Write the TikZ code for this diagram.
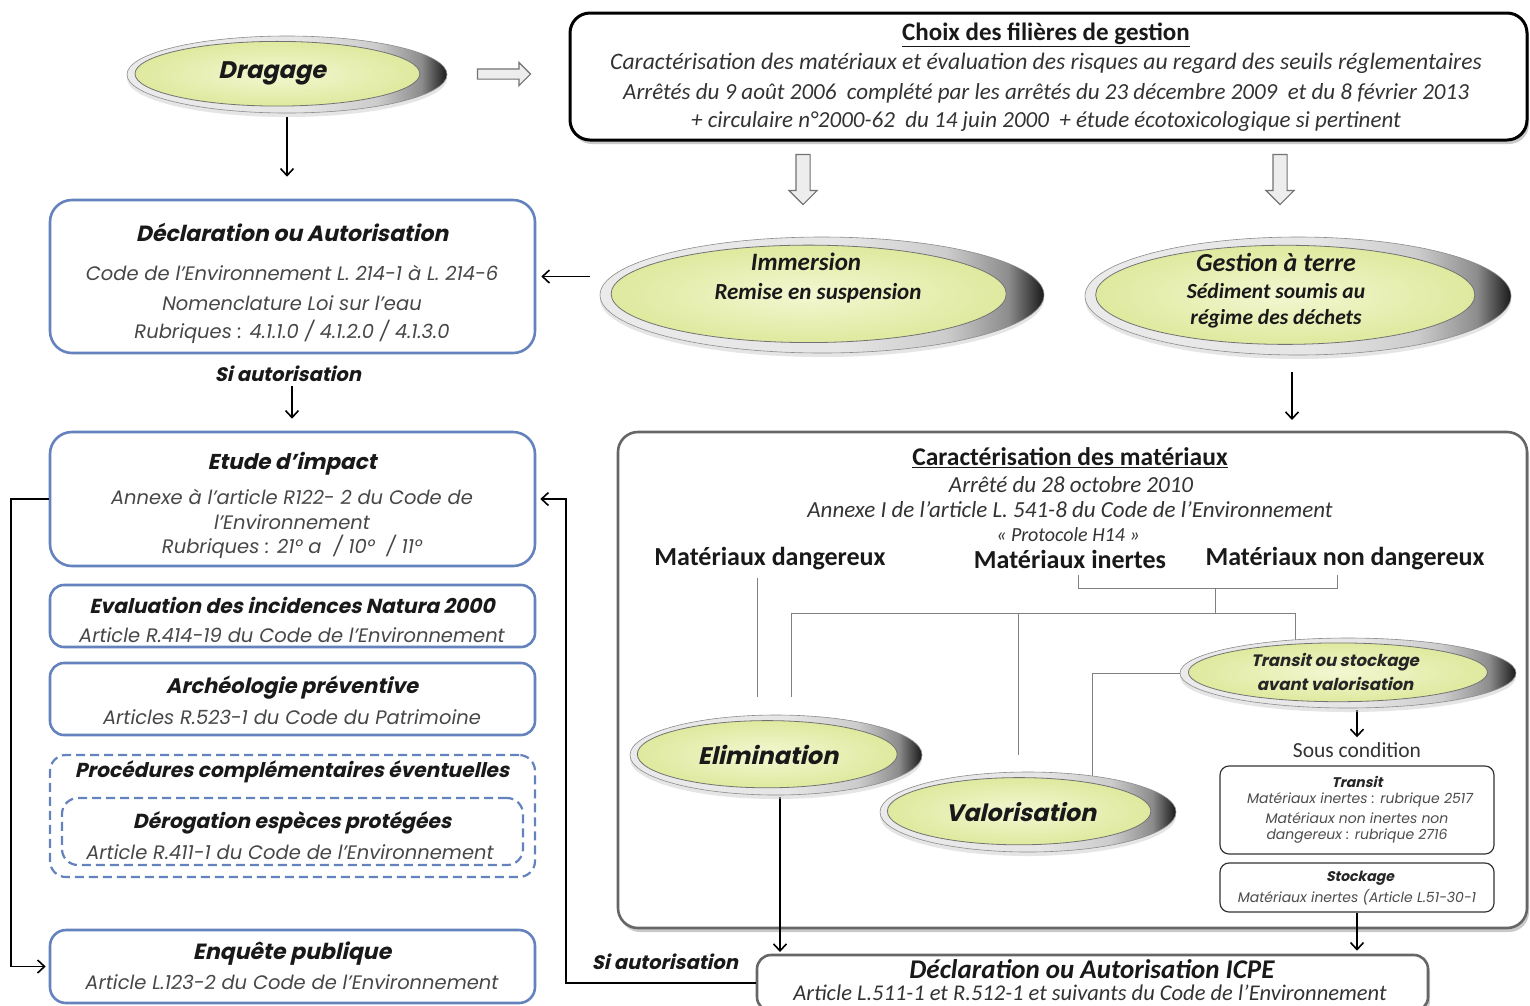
\documentclass[tikz,border=0pt]{standalone}
\usepackage{fontspec}
\setmainfont{Carlito}
\newfontfamily\cg{Poppins}
\newfontfamily\cgs{Poppins}[FakeSlant=0.22]
\usetikzlibrary{arrows.meta,shapes.geometric,shapes.arrows,shadows,calc}
\pgfdeclarelayer{lines}\pgfdeclarelayer{front}
\pgfsetlayers{main,lines,front}
\definecolor{lblue}{HTML}{6483BE}
\definecolor{yelin}{HTML}{F3F7D2}
\definecolor{yelout}{HTML}{DFE99E}
\pgfdeclarehorizontalshading{silver}{100bp}{color(0bp)=(black!8); color(25bp)=(black!8); color(52bp)=(black!10); color(64bp)=(black!20); color(71bp)=(black!45); color(75bp)=(black!90); color(100bp)=(black!90)}
\newcommand{\glossell}[5]{%
  \node[glossout, minimum width={2*#4}, minimum height={2*#5}] (#1) at (#2,#3) {};
  \path[glossin] ({#2-0.06*#4},{#3-0.02*#5}) ellipse [x radius={0.89*#4}, y radius={0.84*#5}];
}
\begin{document}
\begin{tikzpicture}[x=1pt,y=-1pt,
  lbox/.style={draw=lblue, line width=2.6pt, rounded corners=22pt, fill=white, inner sep=0},
  dbox/.style={draw=lblue, line width=2.2pt, dash pattern=on 9pt off 5pt, rounded corners=16pt, fill=white, inner sep=0},
  gbox/.style={draw=#1, line width=2.6pt, rounded corners=20pt, fill=white, inner sep=0,
     drop shadow={shadow xshift=2pt, shadow yshift=-4pt, fill=black!35, opacity=.6}},
  sbox/.style={draw=black!80, line width=1.2pt, rounded corners=9pt, fill=white, inner sep=0},
  glossout/.style={ellipse, inner sep=0, draw=black!45, line width=0.6pt, shading=silver,
     drop shadow={shadow xshift=0pt, shadow yshift=-4pt, fill=black!20, opacity=.5}},
  glossin/.style={draw=black!55, line width=0.8pt, inner color=yelin, outer color=yelout},
  harrow/.style={single arrow, draw=black!55, line width=1.1pt, fill=black!7, single arrow head indent=0},
  arr/.style={draw=black, line width=1.6pt, -{Straight Barb[length=7pt,width=13pt]}},
  gl/.style={draw=black!50, line width=1pt},
  lt/.style={font=\cgs\bfseries\fontsize{21}{24}\selectfont, text=black!90, inner sep=0},
  lb/.style={font=\cg\itshape\fontsize{19.5}{22}\selectfont, text=black!72, inner sep=0},
  et/.style={font=\cgs\bfseries\fontsize{24}{26}\selectfont, text=black!90, inner sep=0},
  ct/.style={font=\bfseries\fontsize{26}{28}\selectfont, text=black!90, inner sep=0},
  ci/.style={font=\itshape\fontsize{23}{26}\selectfont, text=black!80, inner sep=0},
  cbi/.style={font=\bfseries\itshape\fontsize{23}{26}\selectfont, text=black!90, inner sep=0},
  st/.style={font=\cgs\bfseries\fontsize{14}{16}\selectfont, text=black!85, inner sep=0},
  sb/.style={font=\cg\itshape\fontsize{14}{16}\selectfont, text=black!70, inner sep=0}
]
\useasboundingbox[fill=white] (0,0) rectangle (1530,1005);

% ---------- boxes ----------
\node[gbox=black, line width=3pt, minimum width=957, minimum height=127] (choix) at (1048.5,76.5) {};
\node[lbox, minimum width=485, minimum height=153] (decl) at (292.5,276.5) {};
\node[lbox, minimum width=485, minimum height=134] (etude) at (292.5,499) {};
\node[lbox, minimum width=485, minimum height=62, rounded corners=14pt] (natura) at (292.5,616) {};
\node[lbox, minimum width=485, minimum height=72, rounded corners=14pt] (archeo) at (292.5,699) {};
\node[dbox, minimum width=485, minimum height=122] (proc) at (292.5,816) {};
\node[dbox, minimum width=461, minimum height=67] (derog) at (292.5,831.5) {};
\node[lbox, minimum width=485, minimum height=73, rounded corners=16pt] (enq) at (292.5,966.5) {};
\node[gbox=black!60, minimum width=909, minimum height=496] (car) at (1072.5,680) {};
\node[sbox, minimum width=274, minimum height=88] (tbox) at (1357,810) {};
\node[sbox, minimum width=274, minimum height=49] (sbx) at (1357,887.5) {};
\node[gbox=black!60, minimum width=671, minimum height=56, rounded corners=14pt] (icpe) at (1092.5,983) {};

% ---------- texts: left column ----------
\node[lt, font=\cgs\bfseries\fontsize{22}{24}\selectfont] (t1) at (292,232) {Déclaration ou Autorisation};
\node[lb] (t2) at (292,273) {Code de l’Environnement L. 214-1 à L. 214-6};
\node[lb] (t3) at (292,303) {Nomenclature Loi sur l’eau};
\node[lb] (t4) at (292,332) {Rubriques : 4.1.1.0 / 4.1.2.0 / 4.1.3.0};
\node[lt, font=\cgs\bfseries\fontsize{19.5}{22}\selectfont] (sia1) at (288,374) {Si autorisation};
\node[lt, font=\cgs\bfseries\fontsize{21.5}{24}\selectfont] (t5) at (292,464) {Etude d’impact};
\node[lb] (t6) at (292,497) {Annexe à l’article R122- 2 du Code de};
\node[lb] (t7) at (292,522) {l’Environnement};
\node[lb] (t8) at (292,547) {Rubriques : 21° a \ / 10° \ / 11°};
\node[lt, font=\cgs\bfseries\fontsize{20.3}{24}\selectfont] (t9) at (292,605) {Evaluation des incidences Natura 2000};
\node[lb] (t10) at (292,635) {Article R.414-19 du Code de l’Environnement};
\node[lt] (t11) at (292,688) {Archéologie préventive};
\node[lb] (t12) at (292,717) {Articles R.523-1 du Code du Patrimoine};
\node[lt, font=\cgs\bfseries\fontsize{20.2}{24}\selectfont] (t13) at (292,772) {Procédures complémentaires éventuelles};
\node[lt, font=\cgs\bfseries\fontsize{20.3}{24}\selectfont] (t14) at (292,823) {Dérogation espèces protégées};
\node[lb] (t15) at (290,852) {Article R.411-1 du Code de l’Environnement};
\node[lt, font=\cgs\bfseries\fontsize{22}{24}\selectfont] (t16) at (292,954) {Enquête publique};
\node[lb] (t17) at (292,982) {Article L.123-2 du Code de l’Environnement};

% ---------- texts: top box ----------
\node[ct, font=\bfseries\fontsize{25}{28}\selectfont] (c1) at (1046,35) {\underline{Choix des filières de gestion}};
\node[ci, font=\itshape\fontsize{23.6}{26}\selectfont] (c2) at (1046,63) {Caractérisation des matériaux et évaluation des risques au regard des seuils réglementaires};
\node[ci] (c3) at (1046,93) {Arrêtés du 9 août 2006 \ complété par les arrêtés du 23 décembre 2009 \ et du 8 février 2013};
\node[ci] (c4) at (1046,121) {+ circulaire n°2000-62 \ du 14 juin 2000 \ + étude écotoxicologique si pertinent};

% ---------- texts: caractérisation ----------
\node[ct, font=\bfseries\fontsize{25.5}{28}\selectfont] (k1) at (1070,458) {\underline{Caractérisation des matériaux}};
\node[ci] (k2) at (1071,485) {Arrêté du 28 octobre 2010};
\node[ci] (k3) at (1070,510) {Annexe I de l’article L. 541-8 du Code de l’Environnement};
\node[ci, font=\itshape\fontsize{20}{24}\selectfont] (k4) at (1068,535) {« Protocole H14 »};
\node[ct] (md) at (770,559) {Matériaux dangereux};
\node[ct] (mi) at (1070,559) {Matériaux inertes};
\node[ct] (mnd) at (1345,559) {Matériaux non dangereux};
\node[font=\fontsize{21.5}{24}\selectfont, text=black!80, inner sep=0] (sc) at (1357,750) {Sous condition};
\node[st] (b1) at (1357,782) {Transit};
\node[sb] (b2) at (1360,800) {Matériaux inertes : rubrique 2517};
\node[sb] (b3) at (1357,818) {Matériaux non inertes non};
\node[sb] (b4) at (1357,836) {dangereux : rubrique 2716};
\node[st] (b5) at (1360,878) {Stockage};
\node[sb] (b6) at (1357,897) {Matériaux inertes (Article L.51-30-1};
\node[cbi, font=\bfseries\itshape\fontsize{27}{30}\selectfont] (i1) at (1092,969) {Déclaration ou Autorisation ICPE};
\node[ci, font=\itshape\fontsize{22.5}{26}\selectfont] (i2) at (1090,993) {Article L.511-1 et R.512-1 et suivants du Code de l’Environnement};
\node[lt, font=\cgs\bfseries\fontsize{19.5}{22}\selectfont] (sia2) at (665,962) {Si autorisation};

% ---------- glossy ellipses ----------
\begin{pgfonlayer}{front}
\glossell{drag}{287}{74.5}{160}{38.5}
\node[et] (e1) at (272,73) {Dragage};
\glossell{imm}{822}{295}{222}{58}
\node[cbi, font=\bfseries\itshape\fontsize{25}{28}\selectfont] (e2) at (806,262) {Immersion};
\node[cbi] (e3) at (818,293) {Remise en suspension};
\glossell{gest}{1298}{296}{213}{59}
\node[cbi, font=\bfseries\itshape\fontsize{26}{28}\selectfont] (e4) at (1276,262) {Gestion à terre};
\node[cbi, font=\bfseries\itshape\fontsize{21.5}{24}\selectfont] (e5) at (1276,291) {Sédiment soumis au};
\node[cbi, font=\bfseries\itshape\fontsize{21.5}{24}\selectfont] (e6) at (1276,319) {régime des déchets};
\glossell{elim}{776}{755}{146}{40}
\node[et] (e7) at (768,755) {Elimination};
\glossell{valo}{1028}{812}{148}{40}
\node[et, font=\cgs\bfseries\fontsize{23.8}{26}\selectfont] (e8) at (1021,812) {Valorisation};
\glossell{trans}{1348}{673}{168}{35}
\node[st, font=\cgs\bfseries\fontsize{16.5}{18}\selectfont] (e9) at (1335,662) {Transit ou stockage};
\node[st, font=\cgs\bfseries\fontsize{16.5}{18}\selectfont] (e10) at (1335,684) {avant valorisation};
\end{pgfonlayer}

% ---------- hollow arrows ----------
\node[harrow, minimum height=53, inner sep=4.5pt, single arrow head extend=6.5pt] (h1) at (501.5,74) {};
\node[harrow, minimum height=50, inner sep=6.5pt, single arrow head extend=7pt, rotate=-90] (h2) at (803,176) {};
\node[harrow, minimum height=50, inner sep=6.5pt, single arrow head extend=7pt, rotate=-90] (h3) at (1280,176) {};

% ---------- connectors ----------
\begin{pgfonlayer}{lines}
\draw[arr, shorten <=4pt, shorten >=22pt] (drag.south) -- (drag.south |- decl.north);
\draw[arr, shorten <=10pt, shorten >=5pt] (decl.east -| imm.west) -- (decl.east);
\draw[arr, shorten <=4pt, shorten >=12pt] (sia1.south -| t4.south) -- (t4.south |- etude.north);
\draw[arr, shorten <=17pt, shorten >=12pt] (gest.south -| 1292,0) -- (1292,432);
\draw[arr, shorten <=2pt, shorten >=5pt] (sc.north |- trans.south) -- (sc.north);
\draw[arr, shorten <=2pt, shorten >=3pt] (elim.south -| 780,0) -- (780,955);
\draw[arr, shorten >=3pt] (sbx.south) -- (sbx.south |- icpe.north);
\draw[arr, shorten >=4pt] (icpe.west) -- ++(-190,0) |- (etude.east);
\draw[arr, shorten >=3pt] (etude.west) -- ++(-38,0) |- (enq.west);
% thin lines inside the caractérisation box
\coordinate (j0) at (1215,588);
\coordinate (j1) at (1215,613);
\draw[gl] (757,578) -- (757,697);
\draw[gl] (1078,575) -- (1078,588) -- (1337,588) -- (1337,575);
\draw[gl] (j0) -- (j1);
\draw[gl] (791,697) -- (791,613) -- (1295,613) -- (1295,655);
\draw[gl] (1018,613) -- (1018,755);
\draw[gl] (trans.west) -- (1092,673) -- (1092,780);
\end{pgfonlayer}
\end{tikzpicture}
\end{document}
